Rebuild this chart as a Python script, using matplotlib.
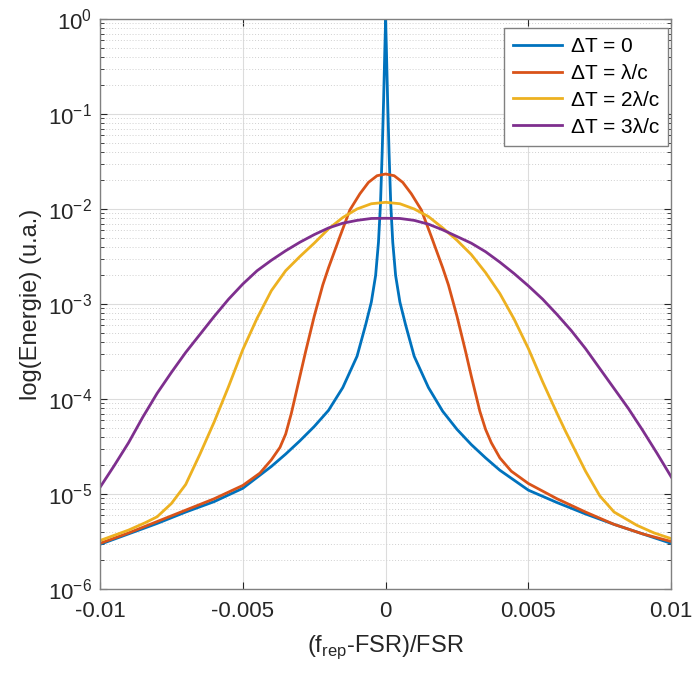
import matplotlib
matplotlib.use('Agg')
import matplotlib.pyplot as plt
import numpy as np

plt.rcParams['font.family'] = ['Liberation Sans', 'DejaVu Sans']
plt.rcParams['axes.unicode_minus'] = False
plt.rcParams['mathtext.fontset'] = 'custom'
plt.rcParams['mathtext.rm'] = 'Liberation Sans'

# values (x, log10 of energy)
x_blue = [-0.01, -0.009, -0.008, -0.007, -0.006, -0.005, -0.004, -0.0035, -0.003, -0.0025,
          -0.002, -0.0015, -0.001, -0.0007, -0.0005, -0.00035, -0.00025, -0.00018, -0.00012, -0.00007,
          -0.00003, 0, 0.00003, 0.00007, 0.00012, 0.00018, 0.00025, 0.00035, 0.0005, 0.0007,
          0.001, 0.0015, 0.002, 0.0025, 0.003, 0.0035, 0.004, 0.005, 0.006, 0.007,
          0.008, 0.009, 0.01]
log_blue = [-5.53, -5.42, -5.31, -5.19, -5.08, -4.94, -4.71, -4.58, -4.44, -4.29,
            -4.12, -3.88, -3.55, -3.22, -2.98, -2.70, -2.35, -1.95, -1.40, -0.85,
            -0.35, 0.0, -0.35, -0.85, -1.40, -1.95, -2.35, -2.70, -2.98, -3.22,
            -3.55, -3.88, -4.13, -4.32, -4.48, -4.62, -4.75, -4.96, -5.09, -5.21,
            -5.32, -5.42, -5.52]

x_red = [-0.01, -0.009, -0.008, -0.007, -0.006, -0.005, -0.0044, -0.004, -0.0037, -0.0035,
         -0.0033, -0.003, -0.0028, -0.0025, -0.0022, -0.002, -0.0016, -0.00125, -0.0009, -0.0006,
         -0.0003, 0, 0.0003, 0.0006, 0.0009, 0.00125, 0.0016, 0.002, 0.0022, 0.0025,
         0.0028, 0.003, 0.0033, 0.0035, 0.0037, 0.004, 0.0044, 0.005, 0.006, 0.007,
         0.008, 0.009, 0.01]
log_red = [-5.52, -5.41, -5.29, -5.17, -5.05, -4.91, -4.78, -4.64, -4.51, -4.37,
           -4.15, -3.76, -3.50, -3.13, -2.80, -2.62, -2.29, -2.01, -1.84, -1.72,
           -1.65, -1.632, -1.65, -1.72, -1.84, -2.01, -2.29, -2.62, -2.80, -3.13,
           -3.50, -3.76, -4.13, -4.32, -4.46, -4.62, -4.76, -4.89, -5.05, -5.19,
           -5.32, -5.42, -5.50]

x_yellow = [-0.01, -0.009, -0.0084, -0.008, -0.0075, -0.007, -0.0065, -0.006, -0.0055, -0.005,
            -0.0045, -0.004, -0.0035, -0.003, -0.0025, -0.002, -0.0015, -0.001, -0.0005, 0,
            0.0005, 0.001, 0.0015, 0.002, 0.0025, 0.003, 0.0035, 0.004, 0.0045, 0.005,
            0.0055, 0.006, 0.0063, 0.0066, 0.007, 0.0075, 0.008, 0.0088, 0.0094, 0.01]
log_yellow = [-5.49, -5.38, -5.30, -5.24, -5.10, -4.90, -4.58, -4.24, -3.87, -3.48,
              -3.15, -2.86, -2.65, -2.50, -2.36, -2.21, -2.09, -2.00, -1.945, -1.93,
              -1.945, -2.00, -2.08, -2.20, -2.33, -2.48, -2.67, -2.89, -3.16, -3.47,
              -3.82, -4.15, -4.34, -4.52, -4.76, -5.02, -5.19, -5.33, -5.41, -5.47]

x_purple = [-0.01, -0.0095, -0.009, -0.0085, -0.008, -0.0075, -0.007, -0.0065, -0.006, -0.0055,
            -0.005, -0.0045, -0.004, -0.0035, -0.003, -0.0025, -0.002, -0.0015, -0.001, -0.0005,
            0, 0.0005, 0.001, 0.0015, 0.002, 0.0025, 0.003, 0.0035, 0.004, 0.0045,
            0.005, 0.0055, 0.006, 0.0065, 0.007, 0.0075, 0.008, 0.0085, 0.009, 0.0095, 0.01]
log_purple = [-4.93, -4.70, -4.46, -4.19, -3.94, -3.72, -3.51, -3.32, -3.13, -2.95,
              -2.79, -2.65, -2.54, -2.44, -2.35, -2.27, -2.20, -2.15, -2.12, -2.10,
              -2.098, -2.10, -2.12, -2.16, -2.22, -2.29, -2.36, -2.45, -2.56, -2.68,
              -2.81, -2.95, -3.11, -3.28, -3.47, -3.68, -3.89, -4.10, -4.33, -4.57, -4.82]

labels = ['ΔT = 0', 'ΔT = λ/c', 'ΔT = 2λ/c', 'ΔT = 3λ/c']
colors = ['#0072BD', '#D95319', '#EDB120', '#7E2F8E']

fig = plt.figure(figsize=(6.97, 6.77), dpi=100)
ax = fig.add_axes([0.1435, 0.130, 0.8195, 0.842])

series = [(x_blue, log_blue), (x_red, log_red), (x_yellow, log_yellow), (x_purple, log_purple)]
for (xs, ls), c, lab in zip(series, colors, labels):
    ax.plot(xs, 10.0 ** np.array(ls), color=c, lw=2.0, label=lab)

ax.set_yscale('log')
ax.set_xlim(-0.01, 0.01)
ax.set_ylim(1e-6, 1)
ax.set_xticks([-0.01, -0.005, 0, 0.005, 0.01])
ax.set_xticklabels(['-0.01', '-0.005', '0', '0.005', '0.01'])
ax.set_yticks([1e-6, 1e-5, 1e-4, 1e-3, 1e-2, 1e-1, 1e0])

ax.grid(True, which='major', color='#dcdcdc', lw=0.8)
ax.grid(True, which='minor', axis='y', color='#d0d0d0', lw=0.7, linestyle=(0, (1, 2)))
ax.set_axisbelow(True)

ax.tick_params(which='both', direction='in', top=True, right=True, labelsize=16,
               colors='#262626', labelcolor='#262626')
ax.tick_params(which='major', length=5)
ax.tick_params(which='minor', length=3)
ax.tick_params(axis='x', which='major', pad=9)
ax.tick_params(axis='y', which='major', pad=6)
for s in ax.spines.values():
    s.set_color('#808080')
    s.set_linewidth(1.0)

ax.set_xlabel('(f$_{\\mathrm{rep}}$-FSR)/FSR', fontsize=17, color='#262626', labelpad=8)
ax.set_ylabel('log(Energie) (u.a.)', fontsize=17, color='#262626', labelpad=4)

leg = ax.legend(loc='upper right', bbox_to_anchor=(0.995, 0.985), fontsize=15,
                fancybox=False, framealpha=1, edgecolor='#808080', handlelength=2.35,
                borderaxespad=0, labelspacing=0.38, handletextpad=0.4, borderpad=0.45)
leg.get_frame().set_linewidth(1.0)

fig.savefig('out.png', dpi=100)
